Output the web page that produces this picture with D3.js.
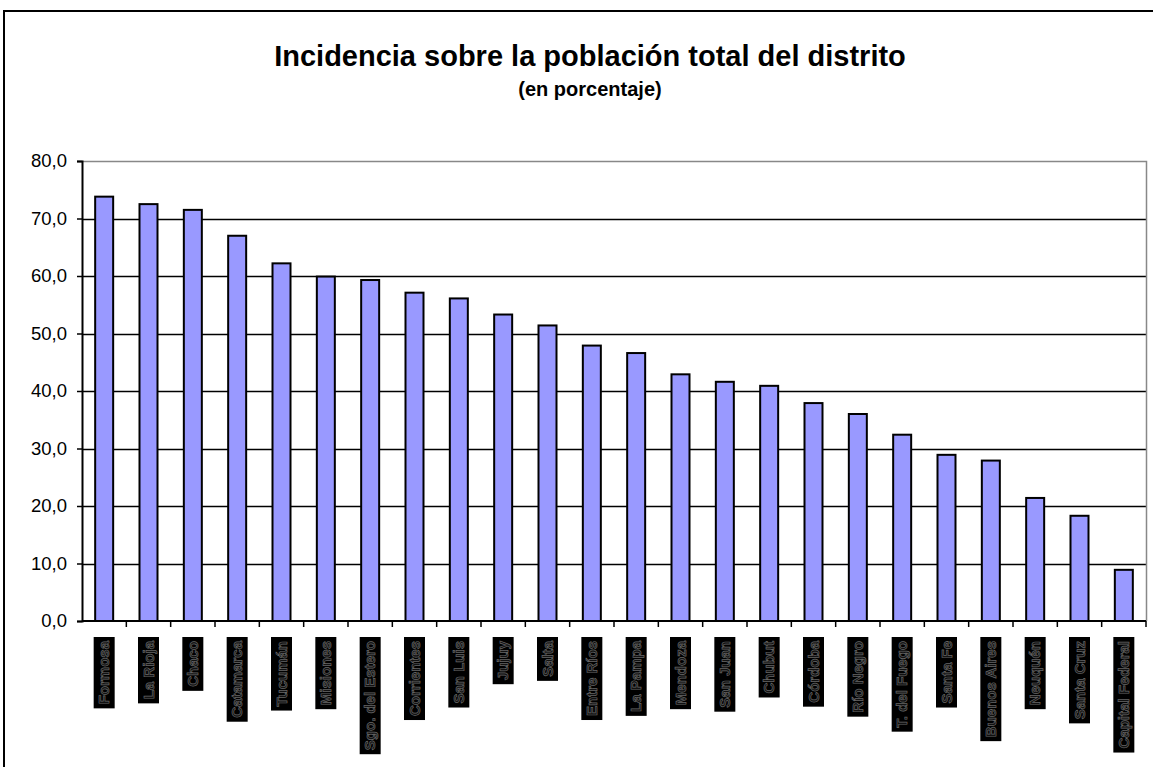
<!DOCTYPE html>
<html>
<head>
    <meta charset="utf-8">
    <script src="https://d3js.org/d3.v7.min.js"></script>
    <style>
        body { margin: 0; background: #fff; }
        text { font-family: Arial, "Liberation Sans", sans-serif; }
    </style>
</head>
<body></body>
<script>
    // data
    let distritos = ["Formosa", "La Rioja", "Chaco", "Catamarca", "Tucumán", "Misiones",
        "Sgo. del Estero", "Corrientes", "San Luis", "Jujuy", "Salta", "Entre Ríos",
        "La Pampa", "Mendoza", "San Juan", "Chubut", "Córdoba", "Río Negro",
        "T. del Fuego", "Santa Fe", "Buenos Aires", "Neuquén", "Santa Cruz", "Capital Federal"];
    let incidencia = [73.8, 72.5, 71.5, 67.0, 62.2, 59.9, 59.3, 57.1, 56.1, 53.3, 51.4, 47.9,
        46.6, 42.9, 41.6, 40.9, 37.9, 36.0, 32.4, 28.9, 27.9, 21.4, 18.3, 8.9];
    let yTicks = [0, 10, 20, 30, 40, 50, 60, 70, 80];

    var W = 1153, H = 767;
    var plot = {left: 82, right: 1146, top: 161, bottom: 621};

    var svg = d3.select("body").append("svg")
        .attr("width", W)
        .attr("height", H);

    // outer frame of the chart
    svg.append("rect")
        .attr("x", 4).attr("y", 11)
        .attr("width", W + 20).attr("height", H + 20)
        .attr("fill", "none")
        .attr("stroke", "#000")
        .attr("stroke-width", 2);

    svg.append("text")
        .attr("x", 590).attr("y", 66)
        .attr("text-anchor", "middle")
        .attr("font-size", 29).attr("font-weight", "bold")
        .text("Incidencia sobre la población total del distrito");

    svg.append("text")
        .attr("x", 590).attr("y", 96)
        .attr("text-anchor", "middle")
        .attr("font-size", 20).attr("font-weight", "bold")
        .text("(en porcentaje)");

    let x = d3.scaleBand().domain(distritos).range([plot.left, plot.right]);
    let y = d3.scaleLinear().domain([0, 80]).range([plot.bottom, plot.top]);

    // gridlines
    svg.append("g").selectAll("line")
        .data(yTicks.filter(d => d > 0 && d < 80))
        .enter().append("line")
            .attr("x1", plot.left).attr("x2", plot.right)
            .attr("y1", d => Math.round(y(d)) + 0.5)
            .attr("y2", d => Math.round(y(d)) + 0.5)
            .attr("stroke", "#000")
            .attr("stroke-width", 1.4);

    // grey top and right border of plot area
    svg.append("path")
        .attr("d", "M" + plot.left + "," + (plot.top + 0.5) + "H" + (plot.right + 0.5) + "V" + plot.bottom)
        .attr("fill", "none")
        .attr("stroke", "#888")
        .attr("stroke-width", 1.5);

    // bars
    let barW = 18;
    svg.append("g").selectAll("rect")
        .data(incidencia)
        .enter().append("rect")
            .attr("x", (d, i) => x(distritos[i]) + x.bandwidth() / 2 - barW / 2)
            .attr("y", d => y(d))
            .attr("width", barW)
            .attr("height", d => y(0) - y(d))
            .attr("fill", "#9999FF")
            .attr("stroke", "#000")
            .attr("stroke-width", 2);

    // y axis
    let yAxis = d3.axisLeft(y)
        .tickValues(yTicks)
        .tickSize(5)
        .tickPadding(10)
        .tickFormat(d => d3.format(".1f")(d).replace(".", ","));
    let gy = svg.append("g")
        .attr("transform", "translate(" + plot.left + ",0)")
        .call(yAxis);
    gy.select(".domain").attr("stroke", "#000").attr("stroke-width", 2);
    gy.selectAll(".tick line").attr("stroke", "#000").attr("stroke-width", 1.5);
    gy.selectAll(".tick text")
        .attr("font-size", 18.5)
        .attr("font-family", "Arial, 'Liberation Sans', sans-serif")
        .attr("fill", "#000");

    // x axis line with ticks between categories
    svg.append("line")
        .attr("x1", plot.left).attr("x2", plot.right)
        .attr("y1", plot.bottom).attr("y2", plot.bottom)
        .attr("stroke", "#000").attr("stroke-width", 2);
    svg.append("g").selectAll("line")
        .data(distritos)
        .enter().append("line")
            .attr("x1", d => x(d) + x.bandwidth())
            .attr("x2", d => x(d) + x.bandwidth())
            .attr("y1", plot.bottom)
            .attr("y2", plot.bottom + 6)
            .attr("stroke", "#000").attr("stroke-width", 1.5);

    // category labels: rotated text on black boxes
    let pad = 4, boxW = 21, boxTop = 637;
    let lab = svg.append("g").selectAll("g")
        .data(distritos)
        .enter().append("g");
    lab.each(function(d) {
        let g = d3.select(this);
        let cx = x(d) + x.bandwidth() / 2;
        let bg = g.append("rect");
        let t = g.append("text")
            .attr("transform", "translate(" + (cx + 5) + "," + (boxTop + pad) + ") rotate(-90)")
            .attr("text-anchor", "end")
            .attr("font-size", 15)
            .attr("font-weight", "bold")
            .attr("fill", "#111")
            .attr("stroke", "#666")
            .attr("stroke-width", 0.7)
            .text(d);
        let len = t.node().getComputedTextLength();
        bg.attr("x", cx - boxW / 2)
            .attr("y", boxTop)
            .attr("width", boxW)
            .attr("height", len + pad * 2)
            .attr("fill", "#000");
    });
</script>
</html>
